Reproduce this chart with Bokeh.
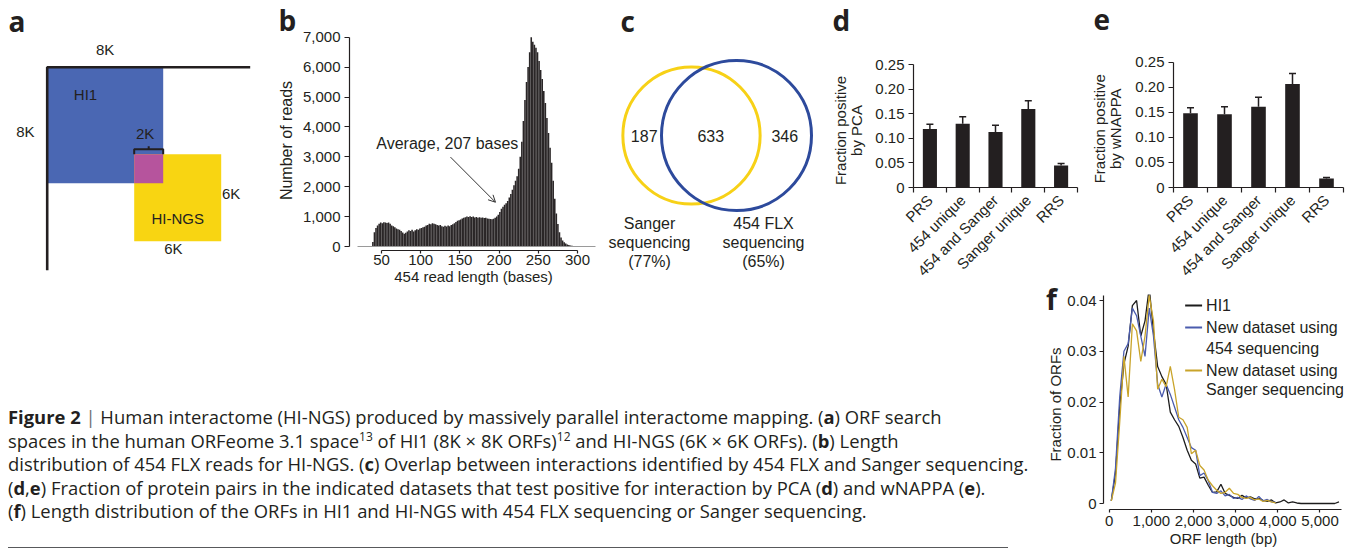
import math
from bokeh.plotting import figure
from bokeh.layouts import row, column
from bokeh.models import (Range1d, Label, Arrow, OpenHead, Whisker, TeeHead,
                          ColumnDataSource, FixedTicker, NumeralTickFormatter, Div)
from bokeh.embed import file_html
from bokeh.resources import INLINE
from bokeh.core.properties import value

# ---------------- data ----------------
# (a) ORF search spaces (thousands of ORFs)
hi1_space_k = 8
hingss_space_k = 6
shared_space_k = 2

# (b) 454 read-length histogram, 2-base bins starting at 38 bases
read_bin_start = 38
read_bin_width = 2
read_counts = [
    150, 480, 620, 700, 760, 800, 780, 810, 800, 790,
    800, 760, 700, 680, 640, 600, 580, 560, 520, 470,
    430, 460, 500, 540, 520, 560, 500, 540, 580, 560,
    600, 620, 640, 660, 700, 720, 760, 740, 780, 760,
    740, 720, 700, 720, 680, 660, 690, 670, 700, 680,
    720, 740, 780, 820, 860, 880, 900, 940, 960, 980,
    1000, 990, 1010, 990, 1000, 970, 990, 960, 980, 960,
    970, 950, 960, 940, 930, 920, 910, 930, 960, 1000,
    1060, 1150, 1260, 1330, 1400, 1450, 1520, 1640, 1760, 1900,
    2050, 2200, 2350, 2600, 3000, 3500, 4200, 4900, 5500, 6000,
    6500, 7000, 6850, 6750, 6650, 6500, 6200, 5900, 5600, 5200,
    4800, 4300, 3800, 3300, 2800, 2200, 1600, 1100, 750, 480,
    300, 200, 140, 100, 70, 50, 35, 25, 15, 10,
    5]
average_read_length = 207
b_x_ticks = [50, 100, 150, 200, 250, 300]
b_y_ticks = [0, 1000, 2000, 3000, 4000, 5000, 6000, 7000]

# (c) overlap of interactions
sanger_only = 187
both_methods = 633
flx_only = 346

# (d), (e)
datasets = ["PRS", "454 unique", "454 and Sanger", "Sanger unique", "RRS"]
pca_fraction = [0.119, 0.130, 0.113, 0.160, 0.045]
pca_error = [0.010, 0.014, 0.014, 0.017, 0.004]
wnappa_fraction = [0.148, 0.146, 0.161, 0.206, 0.018]
wnappa_error = [0.011, 0.015, 0.019, 0.021, 0.002]
de_y_ticks = [0, 0.05, 0.1, 0.15, 0.2, 0.25]

# (f) ORF length distributions (100-bp bins)
orf_len_hi1 = list(range(50, 5500, 100))
frac_hi1 = [0.0005, 0.006, 0.019, 0.0275, 0.031, 0.039, 0.040, 0.033, 0.036, 0.0425,
            0.034, 0.027, 0.025, 0.0235, 0.018, 0.0165, 0.0152, 0.013, 0.0105, 0.0085,
            0.0078, 0.005, 0.0052, 0.0036, 0.0022, 0.0023, 0.0038, 0.002, 0.0016, 0.0012,
            0.001, 0.0016, 0.0011, 0.0013, 0.0009, 0.001, 0.0006, 0.0004, 0.0007, 0.0001,
            0.0003, 0.0007, 0.0001, 0.0003, 0.0001, 0, 0, 0, 0, 0,
            0, 0, 0, 0, 0.0003]
orf_len_new = list(range(50, 4000, 100))
frac_454 = [0.0005, 0.007, 0.021, 0.030, 0.0315, 0.0385, 0.037, 0.033, 0.029, 0.0385,
            0.033, 0.0235, 0.021, 0.0235, 0.0215, 0.019, 0.0165, 0.015, 0.013, 0.011,
            0.0105, 0.0055, 0.006, 0.0045, 0.0022, 0.002, 0.0025, 0.0015, 0.0018, 0.001,
            0.0012, 0.0008, 0.0015, 0.0009, 0.0006, 0.0014, 0.0005, 0.0008, 0.0003, 0.0002]
frac_sanger = [0.0005, 0.004, 0.016, 0.029, 0.021, 0.0354, 0.034, 0.028, 0.033, 0.041,
               0.036, 0.0225, 0.0245, 0.023, 0.027, 0.0225, 0.017, 0.0165, 0.015, 0.0098,
               0.0105, 0.0075, 0.0066, 0.0046, 0.0035, 0.0026, 0.002, 0.0022, 0.003, 0.002,
               0.0018, 0.0012, 0.001, 0.0012, 0.0007, 0.0009, 0.0004, 0.0006, 0.0003, 0.0001]
f_x_ticks = [0, 1000, 2000, 3000, 4000, 5000]
f_y_ticks = [0, 0.01, 0.02, 0.03, 0.04]
f_series_names = ["HI1", "New dataset using\n454 sequencing", "New dataset using\nSanger sequencing"]

# ---------------- style ----------------
FONT = "Liberation Sans"
LETTER_FONT = "Open Sans"
INK = "#231f20"
BLUE_A = "#4a67b3"
YELLOW_A = "#f8d512"
PINK_A = "#b6549d"
VENN_YELLOW = "#f7d117"
VENN_BLUE = "#2d4a9c"
F_COLORS = ["#1c1c1c", "#4b5cae", "#c9a42a"]

TOP_Y, TOP_H = 0, 288      # first row of panels (page pixels)
BOT_Y, BOT_H = 288, 262    # second row
LETTER_SHIFT = 12          # the letter labels are drawn this much below their anchor


def frame_fig(fig_left, fig_top, w, h, fl, ft, fr, fb, xmap, ymap):
    return figure(width=w, height=h,
                  x_range=Range1d(xmap(fl), xmap(fr)), y_range=Range1d(ymap(fb), ymap(ft)),
                  min_border_left=round(fl - fig_left), min_border_right=round(fig_left + w - fr),
                  min_border_top=round(ft - fig_top), min_border_bottom=round(fig_top + h - fb),
                  toolbar_location=None, output_backend="svg")


def blank_fig(w, h, xr, yr):
    p = figure(width=w, height=h, x_range=xr, y_range=yr, x_axis_type=None, y_axis_type=None,
               min_border=0, toolbar_location=None, output_backend="svg")
    p.grid.visible = False
    p.outline_line_color = None
    return p


def style(p):
    p.grid.visible = False
    p.outline_line_color = None
    for ax in p.axis:
        ax.axis_line_color = INK
        ax.axis_line_width = 1.2
        ax.major_tick_line_color = INK
        ax.major_tick_line_width = 1.2
        ax.major_tick_in = 0
        ax.major_tick_out = 4
        ax.minor_tick_line_color = None
        ax.major_label_text_font = FONT
        ax.major_label_text_font_size = "15px"
        ax.major_label_text_color = INK
        ax.axis_label_text_font = FONT
        ax.axis_label_text_font_size = "15px"
        ax.axis_label_text_font_style = "normal"
        ax.axis_label_text_color = INK


def letter(p, ch, x, y):
    p.add_layout(Label(x=x, y=y, text=ch, text_font=LETTER_FONT, text_font_style="bold",
                       text_font_size="28px", text_color=INK, text_align="left",
                       text_baseline="alphabetic"))


def label(p, txt, x, y, angle=0.0, size="15px", align="center"):
    p.add_layout(Label(x=x, y=y, text=txt, text_font=FONT, text_font_size=size,
                       text_color=INK, text_align=align, text_baseline="middle", angle=angle))


def ptext(p, xs, ys, texts, align="center", size="15px"):
    p.text(x=xs, y=ys, text=texts, text_font=value(FONT), text_font_size=size,
           text_color=INK, text_align=align, text_baseline="middle")


# ---------------- (a) + letter b + b's y label ----------------
SA = 14.5                       # px per thousand ORFs
A_LEFT, A_W = 8, 290
A_X0, A_Y0 = 46.7, 66.7         # page position of the ORF-space origin
ak_x = lambda px: (px - A_X0) / SA
ak_y = lambda py: (py - A_Y0) / SA
pa = blank_fig(A_W, TOP_H, Range1d(ak_x(A_LEFT), ak_x(A_LEFT + A_W)),
               Range1d(ak_y(TOP_Y + TOP_H), ak_y(TOP_Y)))
s0 = hi1_space_k - shared_space_k
pa.quad(left=[0], right=[hi1_space_k], top=[0], bottom=[hi1_space_k], fill_color=BLUE_A, line_color=None)
pa.quad(left=[s0], right=[s0 + hingss_space_k], top=[s0], bottom=[s0 + hingss_space_k],
        fill_color=YELLOW_A, line_color=None)
pa.quad(left=[s0], right=[hi1_space_k], top=[s0], bottom=[hi1_space_k], fill_color=PINK_A, line_color=None)
axis_len = 14
pa.line(x=[axis_len, 0, 0], y=[0, 0, axis_len], line_color=INK, line_width=2.6)
brk = s0 - 0.35
pa.line(x=[s0, s0, hi1_space_k, hi1_space_k], y=[s0, brk, brk, s0], line_color=INK, line_width=2)
pa.segment(x0=[s0 + shared_space_k / 2], y0=[brk], x1=[s0 + shared_space_k / 2], y1=[brk - 0.2],
           line_color=INK, line_width=2)
ptext(pa, [hi1_space_k / 2], [-1.2], [f"{hi1_space_k}K"])
ptext(pa, [-1.5], [hi1_space_k / 2 + 0.4], [f"{hi1_space_k}K"])
ptext(pa, [2.64], [1.9], ["HI1"])
ptext(pa, [s0 + 0.75], [4.6], [f"{shared_space_k}K"])
ptext(pa, [s0 + hingss_space_k + 0.05], [s0 + hingss_space_k / 2 - 0.3], [f"{hingss_space_k}K"], align="left")
ptext(pa, [s0 + hingss_space_k / 2 - 0.3], [s0 + hingss_space_k + 0.5], [f"{hingss_space_k}K"])
ptext(pa, [9.0], [10.45], ["HI-NGS"])
letter(pa, "a", ak_x(8), ak_y(32 - LETTER_SHIFT))
letter(pa, "b", ak_x(278), ak_y(31 - LETTER_SHIFT))
label(pa, "Number of reads", ak_x(286), ak_y(140), angle=math.pi / 2, size="16px")

# ---------------- (b) ----------------
bx = lambda px: 50 + (px - 381) / 0.784
by = lambda py: (246 - py) / 0.0299
pb = frame_fig(298, TOP_Y, 300, TOP_H, 349, 30, 597, 250, bx, by)
style(pb)
lefts = [read_bin_start + read_bin_width * i for i in range(len(read_counts))]
rights = [l + read_bin_width for l in lefts]
pb.quad(left=lefts, right=rights, bottom=0, top=read_counts, fill_color="#2a2627", line_color=None)
pb.segment(x0=[bx(357)], y0=[0], x1=[bx(595)], y1=[0], line_color="#9a9a9a", line_width=1)
pb.xaxis.ticker = FixedTicker(ticks=b_x_ticks)
pb.yaxis.ticker = FixedTicker(ticks=b_y_ticks)
pb.yaxis.formatter = NumeralTickFormatter(format="0,0")
pb.xaxis.bounds = (b_x_ticks[0], b_x_ticks[-1])
pb.yaxis.bounds = (b_y_ticks[0], b_y_ticks[-1])
pb.xaxis.major_tick_out = 3
pb.xaxis.major_label_standoff = 1
pb.yaxis.major_tick_out = 5
pb.yaxis.major_label_standoff = 4
pb.xaxis.axis_label = "454 read length (bases)"
pb.xaxis.axis_label_standoff = 0
pb.add_layout(Label(x=134, y=3445, text=f"Average, {average_read_length} bases", text_font=FONT,
                    text_font_size="16px", text_color=INK, text_align="center", text_baseline="middle"))
pb.add_layout(Arrow(end=OpenHead(size=7, line_width=1, line_color="#333333"),
                    x_start=138, y_start=2990, x_end=195.4, y_end=1480,
                    line_width=1, line_color="#333333"))

# ---------------- (c) + letter d + d's y label ----------------
C_LEFT, C_W = 598, 268
pc = blank_fig(C_W, TOP_H, Range1d(0, C_W), Range1d(TOP_H, 0))
cx_ = lambda px: px - C_LEFT
cy_ = lambda py: py - TOP_Y
sanger_total = sanger_only + both_methods
flx_total = both_methods + flx_only
kr = 75 / math.sqrt(flx_total)
r_s = kr * math.sqrt(sanger_total)
r_f = kr * math.sqrt(flx_total)
cy, cx_s, cx_f = cy_(135), cx_(691), cx_(736)
pc.circle(x=[cx_s], y=[cy], radius=r_s, fill_color=None, line_color=VENN_YELLOW, line_width=3)
pc.circle(x=[cx_f], y=[cy], radius=r_f, fill_color=None, line_color=VENN_BLUE, line_width=3)
num_x = [((cx_s - r_s) + (cx_f - r_f)) / 2 + 2, ((cx_f - r_f) + (cx_s + r_s)) / 2,
         ((cx_s + r_s) + (cx_f + r_f)) / 2 - 1]
ptext(pc, num_x, [cy] * 3, [str(sanger_only), str(both_methods), str(flx_only)], size="16px")
pct_s = round(100 * both_methods / sanger_total)
pct_f = round(100 * both_methods / flx_total)
set_rows = [cy_(223), cy_(242), cy_(261)]
ptext(pc, [cx_(649)] * 3, set_rows, ["Sanger", "sequencing", f"({pct_s}%)"], size="16px")
ptext(pc, [cx_(763)] * 3, set_rows, ["454 FLX", "sequencing", f"({pct_f}%)"], size="16px")
letter(pc, "c", cx_(620), cy_(32 - LETTER_SHIFT))
letter(pc, "d", cx_(832), cy_(31 - LETTER_SHIFT))
label(pc, "Fraction positive", cx_(840), cy_(130), angle=math.pi / 2)
label(pc, "by PCA", cx_(855.5), cy_(130), angle=math.pi / 2)


# ---------------- (d), (e) ----------------
def bar_axes(p, values, errors):
    style(p)
    centers = [i + 0.5 for i in range(len(datasets))]
    p.vbar(x=centers, top=values, width=0.43, fill_color=INK, line_color=None)
    src = ColumnDataSource(dict(x=centers, lower=values, upper=[v + e for v, e in zip(values, errors)]))
    p.add_layout(Whisker(source=src, base="x", lower="lower", upper="upper", dimension="height",
                         line_color=INK, line_width=1.5, lower_head=None,
                         upper_head=TeeHead(size=7, line_width=1.5, line_color=INK)))
    p.xaxis.ticker = FixedTicker(ticks=centers, minor_ticks=list(range(len(datasets) + 1)))
    p.xaxis.major_label_overrides = {c: n for c, n in zip(centers, datasets)}
    p.xaxis.major_label_orientation = math.pi / 4
    p.xaxis.major_tick_line_color = None
    p.xaxis.major_tick_out = 0
    p.xaxis.minor_tick_line_color = INK
    p.xaxis.minor_tick_line_width = 1.2
    p.xaxis.minor_tick_in = 0
    p.xaxis.minor_tick_out = 5
    p.xaxis.major_label_standoff = 5
    p.xaxis.bounds = (0, len(datasets))
    p.yaxis.ticker = FixedTicker(ticks=de_y_ticks)
    p.yaxis.formatter = NumeralTickFormatter(format="0.00")
    p.yaxis.major_label_overrides = {0: "0"}
    p.yaxis.bounds = (de_y_ticks[0], de_y_ticks[-1])
    p.yaxis.major_tick_out = 5
    p.yaxis.major_label_standoff = 4


dx = lambda px: (px - 913) / 32.8
dy = lambda py: (191 - py) / 501.2
pdd = frame_fig(866, TOP_Y, 259, TOP_H, 913, TOP_Y, 1125, 191, dx, dy)
bar_axes(pdd, pca_fraction, pca_error)
letter(pdd, "e", dx(1093), dy(31 - LETTER_SHIFT))
label(pdd, "Fraction positive", dx(1098.5), dy(131), angle=math.pi / 2)
label(pdd, "by wNAPPA", dx(1114.5), dy(131), angle=math.pi / 2)

ex = lambda px: (px - 1173) / 34.0
ey = lambda py: (191 - py) / 517.2
pe = frame_fig(1125, TOP_Y, 221, TOP_H, 1173, 56, 1343, 191, ex, ey)
bar_axes(pe, wnappa_fraction, wnappa_error)

# ---------------- letter f + f's y label ----------------
FL_LEFT, FL_W, FL_LETTER_H = 1040, 24, 30
f_letter = Div(text=("<div style=\"font-family:'Open Sans',sans-serif;font-weight:bold;font-size:28px;"
                     "line-height:20px;color:#231f20;padding:1px 0 0 6px;margin:0;\">f</div>"),
               width=FL_W, height=FL_LETTER_H, margin=0)
pfl_top = BOT_Y + FL_LETTER_H
pfl = blank_fig(FL_W, BOT_H - FL_LETTER_H, Range1d(0, FL_W), Range1d(BOT_H - FL_LETTER_H, 0))
label(pfl, "Fraction of ORFs", 1054.5 - FL_LEFT, 404 - pfl_top, angle=math.pi / 2)

# ---------------- (f) ----------------
fx = lambda px: (px - 1107.7) / 0.04234
fy = lambda py: (503 - py) / 5075
pf = frame_fig(1064, BOT_Y, 282, BOT_H, 1102, 294, 1343, 509, fx, fy)
style(pf)
pf.line(orf_len_hi1, frac_hi1, line_color=F_COLORS[0], line_width=1.3)
pf.line(orf_len_new, frac_454, line_color=F_COLORS[1], line_width=1.3)
pf.line(orf_len_new, frac_sanger, line_color=F_COLORS[2], line_width=1.3)
pf.xaxis.ticker = FixedTicker(ticks=f_x_ticks)
pf.xaxis.formatter = NumeralTickFormatter(format="0,0")
pf.yaxis.ticker = FixedTicker(ticks=f_y_ticks)
pf.yaxis.formatter = NumeralTickFormatter(format="0.00")
pf.yaxis.major_label_overrides = {0: "0"}
pf.xaxis.bounds = (0, 5500)
pf.yaxis.bounds = (0, 0.041)
pf.xaxis.major_tick_out = 3
pf.yaxis.major_tick_out = 4
pf.xaxis.major_label_standoff = 3
pf.yaxis.major_label_standoff = 3
pf.xaxis.axis_label = "ORF length (bp)"
pf.xaxis.axis_label_standoff = 1
leg_rows = [(305, [305]), (327, [327, 348]), (370, [370, 389])]
for (sy, lines_y), name, col in zip(leg_rows, f_series_names, F_COLORS):
    pf.segment(x0=[fx(1184)], y0=[fy(sy)], x1=[fx(1201)], y1=[fy(sy)], line_color=col, line_width=2)
    for ly, part in zip(lines_y, name.split("\n")):
        pf.text(x=[fx(1205)], y=[fy(ly)], text=[part], text_font=value(FONT), text_font_size="16px",
                text_color=INK, text_align="left", text_baseline="middle")

# ---------------- caption ----------------
SUP = "<span style='font-size:12px;vertical-align:7px;line-height:0'>"
cap_html = (
    "<div style=\"font-family:'Open Sans',sans-serif;font-size:18.4px;line-height:23.5px;color:#231f20;"
    "white-space:nowrap;padding-top:117px;margin:0;\">"
    "<b>Figure 2</b> <span style='color:#6d6e71'>|</span> Human interactome (HI-NGS) produced by massively parallel "
    "interactome mapping. (<b>a</b>) ORF search<br>"
    f"spaces in the human ORFeome 3.1 space{SUP}13</span> "
    f"of HI1 (8K × 8K ORFs){SUP}12</span> and HI-NGS "
    "(6K × 6K ORFs). (<b>b</b>) Length<br>"
    "distribution of 454 FLX reads for HI-NGS. (<b>c</b>) Overlap between interactions identified by 454 FLX "
    "and Sanger sequencing.<br>"
    "(<b>d</b>,<b>e</b>) Fraction of protein pairs in the indicated datasets that test positive for interaction "
    "by PCA (<b>d</b>) and wNAPPA (<b>e</b>).<br>"
    "(<b>f</b>) Length distribution of the ORFs in HI1 and HI-NGS with 454 FLX sequencing or Sanger sequencing."
    "</div>"
    "<div style='width:1000px;border-top:1.6px solid #58595b;margin-top:24px;'></div>"
)
cap = Div(text=cap_html, width=1032, height=BOT_H, margin=0)

# every figure sits in its own column so that the row does not line up their frames
top = row(column(pa), column(pb), column(pc), column(pdd), column(pe), spacing=0)
bottom = row(cap, column(f_letter, pfl, spacing=0), column(pf), spacing=0)
layout = column(top, bottom, spacing=0, margin=(0, 0, 0, 8))
open("out.html", "w").write(file_html(layout, INLINE))
